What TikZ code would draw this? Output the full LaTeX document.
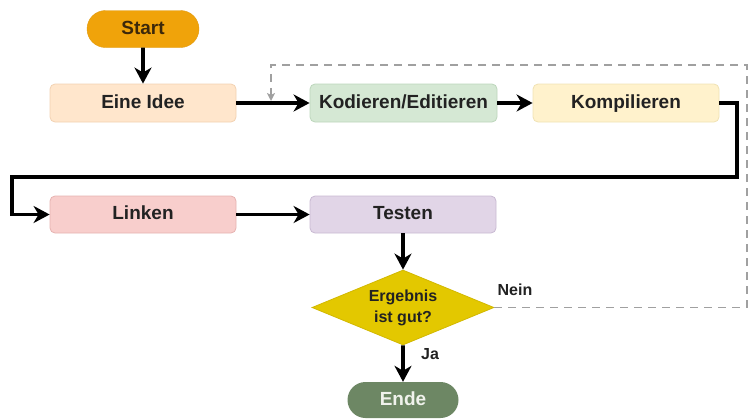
\documentclass[tikz,border=0pt]{standalone}
\usepackage{fontspec}
\setmainfont{Liberation Sans}
\usetikzlibrary{arrows.meta,shapes.geometric,shapes.misc}
\definecolor{txt}{HTML}{222222}
\definecolor{startf}{HTML}{F0A30A}
\definecolor{startd}{HTML}{E09A10}
\definecolor{ideef}{HTML}{FFE6CC}
\definecolor{ideed}{HTML}{F2D2B2}
\definecolor{kodf}{HTML}{D5E8D4}
\definecolor{kodd}{HTML}{BCD6BB}
\definecolor{kompf}{HTML}{FFF2CC}
\definecolor{kompd}{HTML}{F0E2B4}
\definecolor{linkf}{HTML}{F8CECC}
\definecolor{linkd}{HTML}{E6B2B0}
\definecolor{testf}{HTML}{E1D5E7}
\definecolor{testd}{HTML}{C8B9D2}
\definecolor{decf}{HTML}{E3C800}
\definecolor{decd}{HTML}{D2B800}
\definecolor{endef}{HTML}{6D8764}
\definecolor{dashc}{HTML}{A0A0A0}
\tikzset{
  box/.style={rectangle, rounded corners=5pt, minimum width=186pt, minimum height=38pt,
    inner sep=0pt, line width=0.8pt, font=\fontsize{19}{22}\selectfont\bfseries, text=txt,
    text height=13.5pt, text depth=3.5pt},
  pill/.style={rounded rectangle, minimum width=112pt, minimum height=37pt, inner sep=0pt,
    font=\fontsize{19}{22}\selectfont\bfseries, text height=13.5pt, text depth=3.5pt},
  flow/.style={line width=3.8pt, -{Stealth[length=16pt,width=17pt,inset=5pt]}},
  back/.style={line width=1.5pt, dashc, dash pattern=on 8pt off 6pt,
    -{Stealth[length=8pt,width=8pt,inset=2pt]}},
  lbl/.style={font=\fontsize{16}{18}\selectfont\bfseries, text=txt, inner sep=0pt}
}
\begin{document}
\begin{tikzpicture}[x={(1pt,0)}, y={(0,-1pt)}]
\useasboundingbox (0,0) rectangle (749,418);
\node[pill, fill=startf, draw=startd, text={rgb,255:red,60;green,40;blue,10}] (start) at (143,29) {Start};
\node[box, fill=ideef, draw=ideed] (idee) at (143,103) {Eine Idee};
\node[box, fill=kodf, draw=kodd, minimum width=187pt] (kod) at (403.5,103) {Kodieren/Editieren};
\node[box, fill=kompf, draw=kompd] (komp) at (626,103) {Kompilieren};
\node[box, fill=linkf, draw=linkd, minimum height=37pt] (link) at (143,214.5) {Linken};
\node[box, fill=testf, draw=testd, minimum height=37pt] (test) at (403,214.5) {Testen};
\node[diamond, aspect=2.43, fill=decf, draw=decd, line width=0.8pt, minimum width=182pt, minimum height=75pt,
  inner sep=0pt, align=center, font=\fontsize{16}{21}\selectfont\bfseries, text=txt] (dec) at (403,307.5) {Ergebnis\\ist gut?};
\node[pill, fill=endef, minimum width=111pt, minimum height=36pt, text={rgb,255:red,240;green,242;blue,236}] (ende) at (403,400) {Ende};
\node[lbl] (nein) at (515,290) {Nein};
\node[lbl] (ja) at (430,354) {Ja};
\coordinate (r1) at (737,177);
\coordinate (l1) at (12,177);
\coordinate (d1) at (747,307.5);
\coordinate (d2) at (747,65);
\coordinate (d3) at (271,65);
\coordinate (d4) at (271,101);
\draw[flow] (start) -- (idee);
\draw[flow] (idee) -- (kod);
\draw[flow] (kod) -- (komp);
\draw[flow] (komp.east) -| (r1) -- (l1) |- (link.west);
\draw[flow] (link) -- (test);
\draw[flow] (test) -- (dec);
\draw[flow] (dec) -- (ende);
\draw[back] (dec.east) -- (d1) -- (d2) -- (d3) -- (d4);
\end{tikzpicture}
\end{document}
